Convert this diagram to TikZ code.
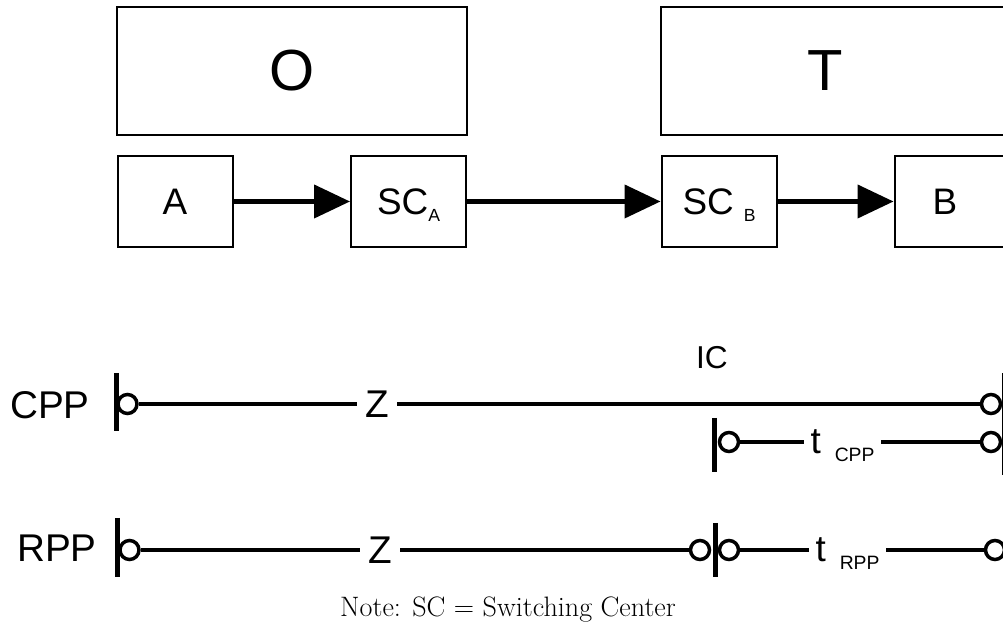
\documentclass[tikz,border=0pt]{standalone}
\usepackage{fontspec}
\newfontfamily\arialfont{Liberation Sans}
\usetikzlibrary{positioning,arrows.meta}

\newcommand\lowsub[1]{\raisebox{-0.14cm}[0pt][0pt]{\fontsize{10}{10}\selectfont #1}}
\newcommand\lowtsub[1]{\raisebox{-0.16cm}[0pt][0pt]{\fontsize{11}{11}\selectfont #1}}

\begin{document}
\begin{tikzpicture}[
  font=\arialfont,
  bigbox/.style={draw,line width=0.04cm,minimum width=7cm,minimum height=2.56cm,
                 font=\arialfont\fontsize{33}{36}\selectfont},
  box/.style={draw,line width=0.04cm,minimum width=2.3cm,minimum height=1.82cm,
              font=\arialfont\fontsize{21}{24}\selectfont},
  flow/.style={line width=0.085cm,-{Triangle[length=0.72cm,width=0.66cm]}},
  wire/.style={line width=0.08cm},
  bar/.style={line width=0.1cm},
  term/.style={circle,draw,line width=0.07cm,minimum size=0.38cm,inner sep=0pt,fill=white},
  lab/.style={font=\arialfont\fontsize{22}{26}\selectfont,inner xsep=0.16cm},
  tlab/.style={font=\arialfont\fontsize{21}{24}\selectfont,inner xsep=0.13cm},
]
  \useasboundingbox (0,0) rectangle (20.06,12.48);

  % parties and switching centers
  \node[bigbox] (O) at (5.84,11.06) {O};
  \node[bigbox] (T) at (16.72,11.06) {T\kern0.42cm};
  \node[box] (A) at (3.5,8.45) {A};
  \node[box] (SCA) at (8.17,8.45) {SC\lowsub{A}};
  \node[box] (SCB) at (14.38,8.45) {SC\hspace{0.2cm}\lowsub{B}};
  \node[box] (B) at (19.04,8.45) {B\kern0.28cm};
  \draw[flow] (A) -- (SCA);
  \draw[flow] (SCA) -- (SCB);
  \draw[flow] (SCB) -- (B);

  % CPP
  \node[lab] (cpp) at (1.0,4.38) {CPP};
  \draw[bar] (2.33,5.02) -- (2.33,3.86);
  \node[term] (c1) at (2.55,4.40) {};
  \node[lab] (z1) at (7.54,4.40) {Z};
  \node[term] (c2) at (19.82,4.40) {};
  \draw[wire] (c1) -- (z1) -- (c2);
  \node[lab,font=\arialfont\fontsize{18}{22}\selectfont] (ic) at (14.24,5.32) {IC};
  \draw[bar] (14.28,4.12) -- (14.28,3.04);
  \node[term] (c3) at (14.58,3.64) {};
  \node[tlab] (tc) at (16.85,3.64) {t\hspace{0.28cm}\lowtsub{CPP}};
  \node[term] (c4) at (19.82,3.64) {};
  \draw[wire] (c3) -- (tc) -- (c4);
  \draw[bar] (20.09,5.02) -- (20.09,2.98);

  % RPP
  \node[lab] (rpp) at (1.14,1.52) {RPP};
  \draw[bar] (2.34,2.12) -- (2.34,0.94);
  \node[term] (r1) at (2.59,1.48) {};
  \node[lab] (z2) at (7.6,1.48) {Z};
  \node[term] (r2) at (14.0,1.48) {};
  \draw[wire] (r1) -- (z2) -- (r2);
  \draw[bar] (14.30,2.02) -- (14.30,0.94);
  \node[term] (r3) at (14.58,1.48) {};
  \node[tlab] (tr) at (16.95,1.48) {t\hspace{0.28cm}\lowtsub{RPP}};
  \node[term] (r4) at (19.9,1.48) {};
  \draw[wire] (r3) -- (tr) -- (r4);

  \node[font=\fontsize{16}{19}\selectfont] (note) at (10.16,0.28) {Note: SC = Switching Center};
\end{tikzpicture}
\end{document}
